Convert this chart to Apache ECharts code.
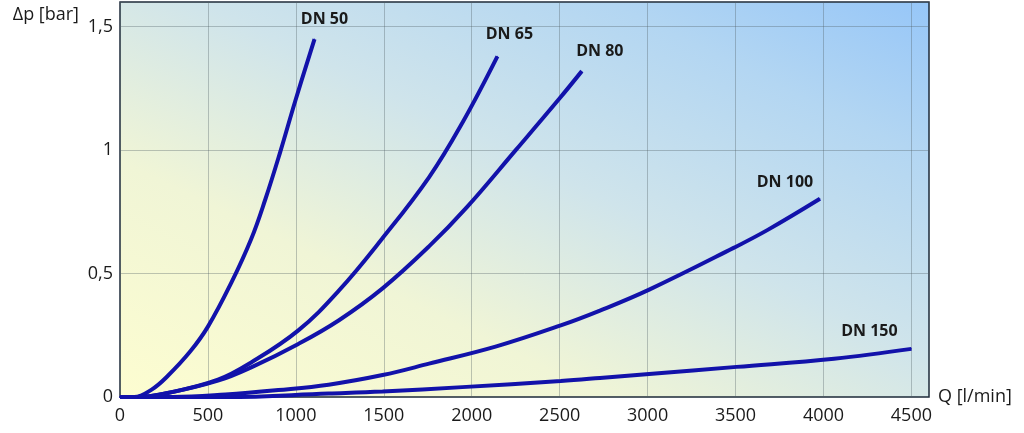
<!DOCTYPE html>
<html>
<head>
<meta charset="utf-8">
<script src="https://cdn.jsdelivr.net/npm/echarts@6/dist/echarts.min.js"></script>
<style>
  html, body { margin: 0; padding: 0; background: #fff; }
  #chart { width: 1024px; height: 433px; }
</style>
</head>
<body>
<div id="chart"></div>
<script>
// pressure drop curves
const names = ['DN 50', 'DN 65', 'DN 80', 'DN 100', 'DN 150']

const q50 = [0, 80, 180, 271, 400, 500, 631, 746, 826, 910, 997, 1106]
const p50 = [0, 0, 0.03, 0.085, 0.185, 0.285, 0.46, 0.64, 0.80, 0.99, 1.2, 1.45]

const q65 = [0, 100, 271, 557, 746, 1014, 1243, 1489, 1757, 1946, 2146]
const p65 = [0, 0, 0.016, 0.07, 0.14, 0.27, 0.43, 0.64, 0.89, 1.11, 1.38]

const q80 = [0, 100, 271, 557, 746, 1014, 1243, 1493, 1757, 1974, 2250, 2500, 2626]
const p80 = [0, 0, 0.016, 0.066, 0.12, 0.215, 0.31, 0.44, 0.61, 0.77, 1.0, 1.21, 1.32]

const q100 = [0, 300, 600, 900, 1186, 1493, 1757, 2140, 2506, 2729, 3009, 3489, 3683, 3980]
const p100 = [0, 0, 0.01, 0.028, 0.05, 0.089, 0.135, 0.205, 0.29, 0.35, 0.435, 0.604, 0.677, 0.803]

const q150 = [0, 600, 1186, 1493, 1946, 2506, 2729, 3009, 3506, 4060, 4500]
const p150 = [0, 0, 0.014, 0.022, 0.04, 0.065, 0.077, 0.093, 0.122, 0.155, 0.195]

const xTicks = [0, 500, 1000, 1500, 2000, 2500, 3000, 3500, 4000, 4500]
const yTicks = [0, 0.5, 1, 1.5]

const curves = [[q50, p50], [q65, p65], [q80, p80], [q100, p100], [q150, p150]]
// where each name sits relative to its curve end
const labelOffsets = [[10, -6], [12, -8], [18, -6], [-35, -3], [-42, -4]]

const lineColor = '#1212aa'
const textColor = '#1a1a1a'

const series = curves.map(([q, p], i) => {
  const data = q.map((x, j) => [x, p[j]])
  const last = data.length - 1
  data[last] = {
    value: data[last],
    label: {
      show: true,
      position: 'top',
      offset: labelOffsets[i],
      formatter: names[i],
      fontFamily: 'Open Sans',
      fontWeight: 'bold',
      fontSize: 16,
      color: textColor,
    },
  }
  return {
    name: names[i],
    type: 'line',
    data,
    smooth: 0.4,
    symbol: 'circle',
    symbolSize: 1,
    showSymbol: true,
    clip: false,
    lineStyle: { color: lineColor, width: 4 },
    itemStyle: { color: lineColor },
    label: { show: false },
    z: 3,
  }
})

const chart = echarts.init(document.getElementById('chart'))

chart.setOption({
  animation: false,
  textStyle: { fontFamily: 'Open Sans' },
  grid: {
    left: 120,
    right: 95,
    top: 2,
    bottom: 36,
    show: true,
    borderColor: '#1e2a3a',
    borderWidth: 1.5,
    backgroundColor: new echarts.graphic.LinearGradient(0.3075, 1.3075, 0.6925, -0.3075, [
      { offset: 0, color: '#fdfdd0' },
      { offset: 0.3, color: '#f0f5d6' },
      { offset: 0.55, color: '#cfe4eb' },
      { offset: 0.8, color: '#b3d6f2' },
      { offset: 1, color: '#96c6f8' },
    ]),
  },
  xAxis: {
    type: 'value',
    min: 0,
    max: 4600,
    interval: 500,
    name: 'Q [l/min]',
    nameLocation: 'end',
    nameGap: 9,
    nameTextStyle: { fontSize: 18, color: textColor, verticalAlign: 'middle', align: 'left' },
    axisLine: { show: false },
    axisTick: { show: false },
    axisLabel: {
      fontSize: 18,
      color: textColor,
      margin: 10,
      formatter: v => (xTicks.includes(v) ? String(v) : ''),
    },
    splitLine: {
      show: true,
      lineStyle: { color: 'rgba(80,95,100,0.35)', width: 1 },
    },
  },
  yAxis: {
    type: 'value',
    min: 0,
    max: 1.6,
    interval: 0.5,
    name: 'Δp [bar]',
    nameLocation: 'end',
    nameGap: -13,
    nameTextStyle: {
      fontSize: 18,
      color: textColor,
      align: 'right',
      verticalAlign: 'middle',
      padding: [0, 41, 0, 0],
    },
    axisLine: { show: false },
    axisTick: { show: false },
    axisLabel: {
      fontSize: 18,
      color: textColor,
      margin: 7,
      formatter: v => (yTicks.includes(v) ? String(v).replace('.', ',') : ''),
    },
    splitLine: {
      show: true,
      lineStyle: { color: 'rgba(80,95,100,0.35)', width: 1 },
    },
  },
  series,
})
</script>
</body>
</html>
